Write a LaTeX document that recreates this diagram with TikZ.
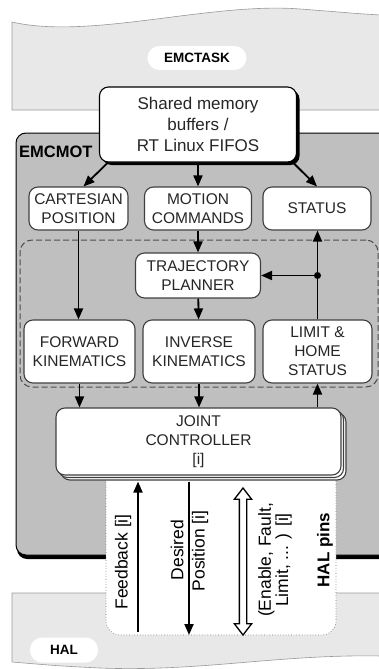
\documentclass[tikz,border=0pt]{standalone}
\usepackage{fontspec}
\setmainfont{Liberation Sans}
\usetikzlibrary{shapes.arrows,shadows,arrows.meta}

\begin{document}
\begin{tikzpicture}[x=1pt,y=-1pt,>={Triangle[length=11pt,width=9pt]}]
\tikzstyle{box}=[draw=black!75,fill=white,rounded corners=9,align=center,inner sep=0,line width=1.1,text=black!85,font=\fontsize{15.5}{19}\selectfont]
\tikzstyle{pill}=[fill=white,rounded corners=12,inner sep=0,font=\fontsize{13.5}{16}\selectfont\bfseries]
\tikzstyle{flow}=[->,line width=1.8]
\tikzstyle{pinlabel}=[rotate=90,inner sep=0,align=center,font=\fontsize{17.5}{16}\selectfont]
\useasboundingbox (0,0) rectangle (379,669);
\fill[white] (0,0) rectangle (379,669);
\filldraw[fill=black!9,draw=black!40,line width=0.6] (12,22) .. controls (90,40) and (210,2) .. (300,9) .. controls (340,12) and (360,14) .. (381,15) -- (381,110) -- (12,110) -- cycle;
\filldraw[fill=black!9,draw=black!40,line width=0.6] (12,593) -- (381,593) -- (381,656) .. controls (280,654) and (200,672) .. (100,668) .. controls (60,666) .. (12,662) -- cycle;
\node[draw=black,fill=black!25,rounded corners=10,minimum width=374,minimum height=422,line width=1,drop shadow={shadow xshift=1pt,shadow yshift=-4pt,fill=black,opacity=1}] (emcmot) at (203,344) {};
\node[draw=black!55,dotted,fill=white,rounded corners=14,minimum width=230,minimum height=170,line width=0.7] (pins) at (221,550) {};
\node[pill,minimum width=99,minimum height=24] (emctask) at (197,58) {EMCTASK};
\node[pill,minimum width=68,minimum height=25] (hal) at (64,650) {HAL};
\node[anchor=west,inner sep=0,font=\fontsize{16.5}{18}\selectfont\bfseries] (emcmotlabel) at (19,152) {EMCMOT};
\node[box,draw=black,minimum width=197,minimum height=75,font=\fontsize{17}{21}\selectfont,drop shadow={shadow xshift=3pt,shadow yshift=-3pt,fill=black,opacity=1}] (shared) at (198,124.5) {Shared memory\\buffers /\\RT Linux FIFOS};
\node[box,minimum width=99,minimum height=43] (cart) at (78.5,208.5) {CARTESIAN\\POSITION};
\node[box,minimum width=107,minimum height=43] (motion) at (198,208.5) {MOTION\\COMMANDS};
\node[box,minimum width=108,minimum height=43] (status) at (317,208.5) {STATUS};
\node[draw=black!70,dash pattern=on 6pt off 3pt,rounded corners=12,minimum width=358,minimum height=147,line width=1] (kinzone) at (199,313.5) {};
\node[box,minimum width=125,minimum height=45] (traj) at (198,275.5) {TRAJECTORY\\PLANNER};
\node[box,minimum width=111,minimum height=63] (fwd) at (79.5,351.5) {FORWARD\\KINEMATICS};
\node[box,minimum width=112,minimum height=63] (inv) at (199,351.5) {INVERSE\\KINEMATICS};
\node[box,minimum width=109,minimum height=63] (limit) at (317.5,351.5) {LIMIT \&\\HOME\\STATUS};
\node[box,minimum width=285,minimum height=67,double copy shadow={shadow xshift=2.5pt,shadow yshift=-2.5pt}] (joint) at (198.5,441.5) {JOINT\\CONTROLLER\\{[i]}};
\draw[flow] ([xshift=9]shared.south west) -- ([xshift=5]cart.north);
\draw[flow] (shared) -- (motion);
\draw[flow] ([xshift=-4]shared.south east) -- (status.north);
\draw[flow] (cart.south) -- (cart.south |- fwd.north);
\draw[flow] (motion) -- (traj);
\draw[flow] (traj) -- (inv);
\draw[flow] (fwd.south) -- (fwd.south |- joint.north);
\draw[flow] (inv.south) -- (inv.south |- joint.north);
\draw[flow] (limit.south |- joint.north) -- (limit.south);
\coordinate (branch) at (limit.north |- traj.east);
\draw[flow] (limit.north) -- (limit.north |- status.south);
\draw[flow] (branch) -- (traj.east);
\fill (branch) circle (3.5);
\coordinate (jbot) at ([yshift=-6pt]joint.south);
\coordinate (fbfoot) at (138,632);
\coordinate (dpfoot) at (189,635);
\draw[flow] (fbfoot) -- (fbfoot |- jbot);
\draw[flow] (dpfoot |- jbot) -- (dpfoot);
\node[double arrow,draw=black,fill=white,line width=1.3,rotate=90,inner xsep=0,inner ysep=3,minimum width=0,minimum height=147,double arrow head extend=5,double arrow tip angle=75] (pinsarrow) at (243,561.5) {};
\node[pinlabel] (fbtext) at (123,562) {Feedback [i]};
\node[pinlabel] (dptext) at (177,550) {Desired};
\node[pinlabel] (postext) at (200,551) {Position [i]};
\node[pinlabel] (entext) at (275,560) {(Enable, Fault,\\Limit, ... ) [i]};
\node[pinlabel,font=\fontsize{17}{18}\selectfont\bfseries] (halpins) at (325,550) {HAL pins};
\end{tikzpicture}
\end{document}
